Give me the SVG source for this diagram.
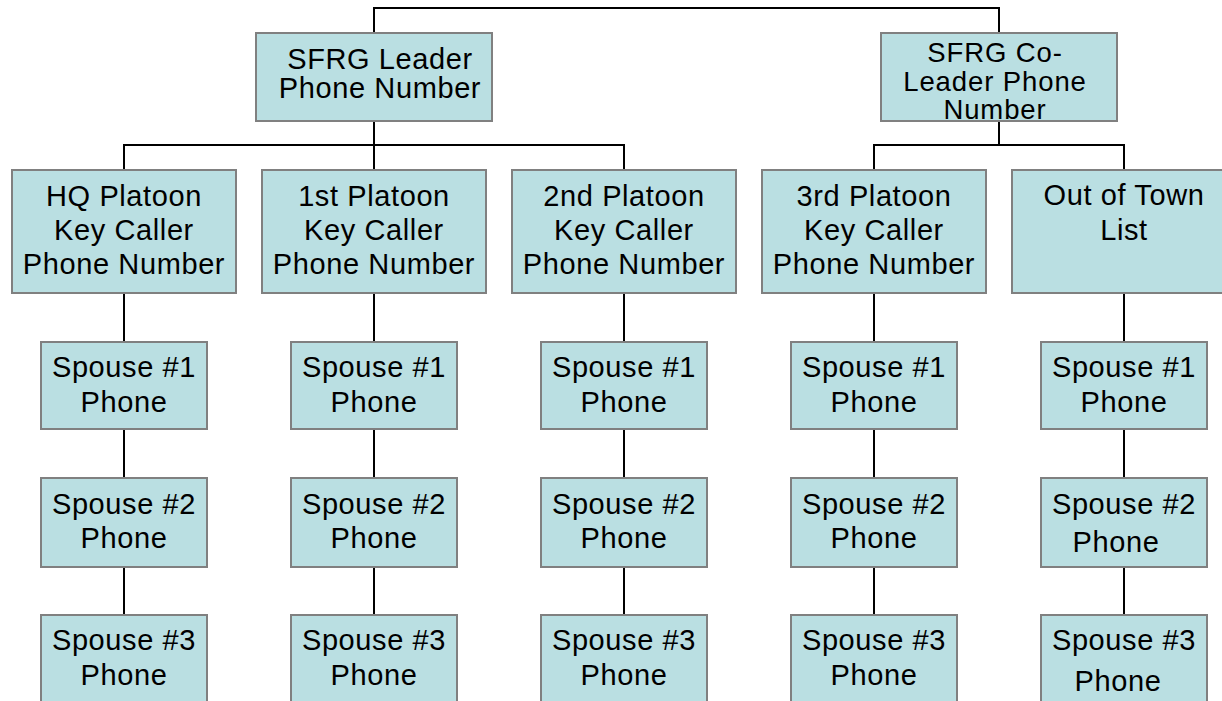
<svg xmlns="http://www.w3.org/2000/svg" width="1222" height="701" viewBox="0 0 1222 701">
<style>
.box{fill:#BADFE2;stroke:#808080;stroke-width:2}
.conn{fill:none;stroke:#000;stroke-width:2}
text{font-family:"Liberation Sans",Arial,sans-serif;font-size:29px;letter-spacing:0.6px;fill:#000;text-anchor:middle}
.sm{font-size:27.5px;letter-spacing:0.9px}
</style>
<rect width="1222" height="701" fill="#fff"/>
<g id="connectors">
<path class="conn" d="M374,33 V8 H999 V33"/>
<path class="conn" d="M374,121 V145 M124,170 V145 H624 V170 M374,145 V170"/>
<path class="conn" d="M999,121 V145 M874,170 V145 H1124 V170"/>
<path class="conn" d="M124,293 V342 M124,429 V478 M124,567 V615"/>
<path class="conn" d="M374,293 V342 M374,429 V478 M374,567 V615"/>
<path class="conn" d="M624,293 V342 M624,429 V478 M624,567 V615"/>
<path class="conn" d="M874,293 V342 M874,429 V478 M874,567 V615"/>
<path class="conn" d="M1124,293 V342 M1124,429 V478 M1124,567 V615"/>
</g>
<g id="leader"><rect class="box" x="256" y="33" width="236" height="88"/><text x="380" y="69">SFRG Leader</text><text x="380" y="98">Phone Number</text></g>
<g id="coleader"><rect class="box" x="881" y="33" width="236" height="88"/><text class="sm" x="995" y="62">SFRG Co-</text><text class="sm" x="995" y="90.5">Leader Phone</text><text class="sm" x="995" y="119">Number</text></g>
<g id="hq"><rect class="box" x="12" y="170" width="224" height="123"/><text x="124" y="206">HQ Platoon</text><text x="124" y="240">Key Caller</text><text x="124" y="274">Phone Number</text></g>
<g id="p1"><rect class="box" x="262" y="170" width="224" height="123"/><text x="374" y="206">1st Platoon</text><text x="374" y="240">Key Caller</text><text x="374" y="274">Phone Number</text></g>
<g id="p2"><rect class="box" x="512" y="170" width="224" height="123"/><text x="624" y="206">2nd Platoon</text><text x="624" y="240">Key Caller</text><text x="624" y="274">Phone Number</text></g>
<g id="p3"><rect class="box" x="762" y="170" width="224" height="123"/><text x="874" y="206">3rd Platoon</text><text x="874" y="240">Key Caller</text><text x="874" y="274">Phone Number</text></g>
<g id="oot"><rect class="box" x="1012" y="170" width="224" height="123"/><text x="1124" y="205">Out of Town</text><text x="1124" y="240">List</text></g>

<g id="hq-s1"><rect class="box" x="41" y="342" width="166" height="87"/><text x="124" y="377">Spouse #1</text><text x="124" y="412">Phone</text></g>
<g id="hq-s2"><rect class="box" x="41" y="478" width="166" height="89"/><text x="124" y="514">Spouse #2</text><text x="124" y="548">Phone</text></g>
<g id="hq-s3"><rect class="box" x="41" y="615" width="166" height="89"/><text x="124" y="650">Spouse #3</text><text x="124" y="685">Phone</text></g>

<g id="p1-s1"><rect class="box" x="291" y="342" width="166" height="87"/><text x="374" y="377">Spouse #1</text><text x="374" y="412">Phone</text></g>
<g id="p1-s2"><rect class="box" x="291" y="478" width="166" height="89"/><text x="374" y="514">Spouse #2</text><text x="374" y="548">Phone</text></g>
<g id="p1-s3"><rect class="box" x="291" y="615" width="166" height="89"/><text x="374" y="650">Spouse #3</text><text x="374" y="685">Phone</text></g>

<g id="p2-s1"><rect class="box" x="541" y="342" width="166" height="87"/><text x="624" y="377">Spouse #1</text><text x="624" y="412">Phone</text></g>
<g id="p2-s2"><rect class="box" x="541" y="478" width="166" height="89"/><text x="624" y="514">Spouse #2</text><text x="624" y="548">Phone</text></g>
<g id="p2-s3"><rect class="box" x="541" y="615" width="166" height="89"/><text x="624" y="650">Spouse #3</text><text x="624" y="685">Phone</text></g>

<g id="p3-s1"><rect class="box" x="791" y="342" width="166" height="87"/><text x="874" y="377">Spouse #1</text><text x="874" y="412">Phone</text></g>
<g id="p3-s2"><rect class="box" x="791" y="478" width="166" height="89"/><text x="874" y="514">Spouse #2</text><text x="874" y="548">Phone</text></g>
<g id="p3-s3"><rect class="box" x="791" y="615" width="166" height="89"/><text x="874" y="650">Spouse #3</text><text x="874" y="685">Phone</text></g>

<g id="oot-s1"><rect class="box" x="1041" y="342" width="166" height="87"/><text x="1124" y="377">Spouse #1</text><text x="1124" y="412">Phone</text></g>
<g id="oot-s2"><rect class="box" x="1041" y="478" width="166" height="89"/><text x="1124" y="514">Spouse #2</text><text x="1116" y="552">Phone</text></g>
<g id="oot-s3"><rect class="box" x="1041" y="615" width="166" height="89"/><text x="1124" y="650">Spouse #3</text><text x="1118" y="691">Phone</text></g>
</svg>
